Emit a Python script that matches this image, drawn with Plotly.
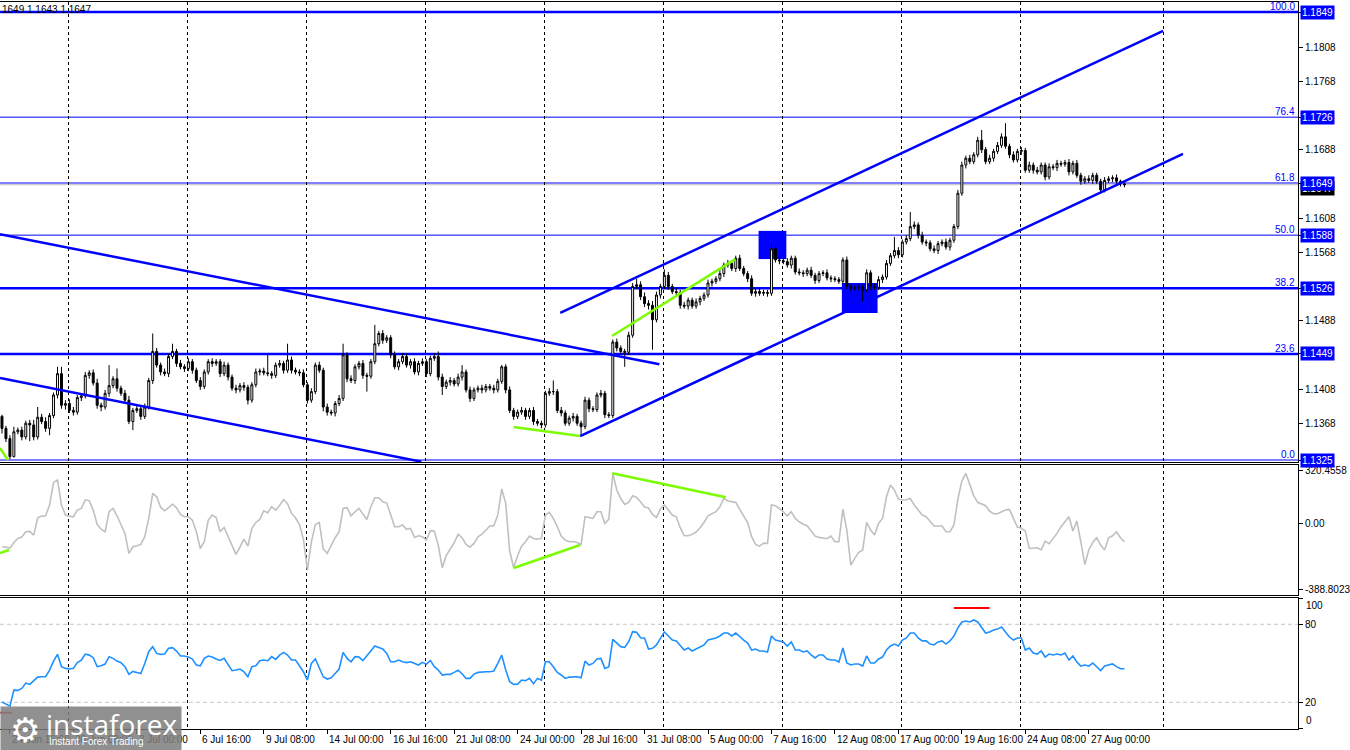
import plotly.graph_objects as go

# EURUSD H4 candles, prices in pips above 1.1000, open = previous close
first_open = 376
closes = [
    362, 350, 329, 358, 360, 352, 368, 366, 352, 375,
    370, 362, 377, 401, 426, 389, 391, 383, 381, 398,
    400, 424, 427, 415, 389, 387, 403, 412, 420, 409,
    403, 395, 370, 383, 385, 376, 387, 418, 452, 436,
    428, 426, 446, 452, 438, 434, 432, 440, 430, 418,
    411, 428, 440, 438, 440, 426, 436, 422, 409, 407,
    412, 410, 395, 413, 428, 429, 427, 426, 424, 436,
    438, 430, 442, 430, 428, 427, 413, 395, 405, 436,
    430, 387, 381, 380, 391, 397, 448, 420, 418, 434,
    438, 424, 423, 440, 461, 473, 465, 468, 448, 434,
    440, 446, 436, 440, 428, 438, 440, 426, 444, 446,
    422, 411, 416, 418, 414, 422, 428, 407, 397, 407,
    409, 407, 411, 409, 407, 417, 434, 407, 383, 376,
    381, 383, 376, 383, 370, 368, 366, 403, 405, 405,
    383, 380, 368, 374, 376, 368, 364, 395, 385, 384,
    401, 403, 378, 377, 463, 456, 452, 451, 471, 528,
    530, 516, 508, 506, 489, 518, 528, 541, 528, 522,
    521, 506, 505, 512, 505, 510, 514, 518, 532, 534,
    537, 543, 553, 555, 549, 561, 549, 543, 537, 520,
    522, 520, 521, 520, 572, 559, 558, 557, 553, 561,
    545, 544, 543, 547, 541, 535, 543, 544, 538, 537,
    536, 534, 559, 528, 526, 526, 527, 524, 544, 528,
    527, 536, 539, 555, 564, 570, 565, 580, 584, 598,
    600, 588, 580, 579, 572, 570, 578, 580, 574, 582,
    598, 637, 670, 678, 674, 682, 699, 688, 674, 678,
    686, 693, 703, 692, 682, 676, 686, 687, 664, 670,
    664, 662, 670, 656, 668, 667, 672, 671, 673, 662,
    672, 658, 651, 654, 652, 658, 651, 641, 652, 654,
    655, 651, 648, 647,
]
upper_wick = [
    2, 3, 4, 6, 3, 4, 3, 4, 6, 12,
    4, 5, 3, 3, 8, 8, 4, 5, 4, 3,
    3, 4, 3, 4, 5, 3, 4, 24, 3, 12,
    3, 4, 5, 3, 4, 3, 4, 3, 21, 4,
    3, 4, 3, 9, 3, 4, 3, 4, 3, 3,
    4, 3, 3, 4, 3, 3, 4, 3, 3, 4,
    3, 4, 3, 3, 4, 3, 4, 21, 3, 3,
    4, 3, 19, 4, 3, 3, 4, 3, 4, 3,
    4, 3, 4, 3, 3, 4, 13, 3, 4, 3,
    3, 4, 3, 3, 22, 3, 4, 3, 3, 4,
    3, 4, 3, 3, 4, 3, 4, 3, 3, 4,
    6, 4, 3, 4, 3, 4, 8, 3, 4, 3,
    3, 4, 3, 3, 4, 3, 2, 3, 4, 3,
    3, 4, 3, 3, 4, 3, 3, 3, 4, 13,
    3, 4, 3, 3, 4, 3, 3, 4, 3, 3,
    3, 4, 3, 3, 3, 4, 3, 3, 4, 4,
    7, 4, 5, 4, 5, 4, 3, 7, 4, 3,
    4, 3, 4, 3, 3, 4, 3, 3, 4, 3,
    3, 4, 3, 4, 3, 3, 4, 3, 3, 4,
    3, 4, 3, 3, 7, 4, 3, 3, 4, 3,
    3, 4, 3, 3, 4, 3, 3, 3, 4, 3,
    3, 3, 3, 4, 3, 3, 3, 3, 4, 3,
    3, 4, 3, 4, 3, 16, 4, 3, 4, 17,
    4, 3, 4, 3, 3, 4, 3, 3, 4, 3,
    3, 4, 4, 3, 4, 3, 4, 12, 3, 4,
    3, 4, 4, 16, 3, 4, 3, 4, 3, 4,
    3, 4, 3, 3, 4, 3, 4, 3, 3, 4,
    3, 4, 3, 3, 4, 3, 3, 3, 4, 3,
    3, 4, 2, 3,
]
lower_wick = [
    6, 4, 3, 1, 3, 4, 3, 19, 4, 3,
    3, 4, 8, 3, 4, 4, 5, 3, 4, 3,
    4, 3, 4, 3, 4, 5, 3, 4, 3, 4,
    3, 4, 3, 10, 3, 4, 3, 3, 4, 3,
    4, 3, 4, 3, 4, 3, 4, 3, 4, 3,
    4, 3, 3, 4, 3, 4, 3, 4, 3, 4,
    3, 4, 5, 3, 3, 4, 3, 3, 4, 3,
    3, 4, 3, 4, 3, 4, 3, 4, 3, 3,
    3, 5, 4, 3, 4, 3, 3, 4, 3, 4,
    3, 4, 18, 3, 3, 3, 4, 3, 4, 3,
    4, 3, 3, 4, 3, 4, 3, 4, 3, 3,
    4, 10, 3, 4, 3, 3, 4, 3, 4, 3,
    3, 4, 3, 3, 4, 3, 3, 4, 3, 4,
    3, 3, 4, 3, 4, 3, 4, 3, 3, 4,
    3, 4, 3, 3, 4, 3, 10, 3, 4, 3,
    3, 3, 4, 3, 3, 4, 3, 17, 3, 3,
    3, 4, 4, 5, 35, 3, 4, 3, 4, 3,
    4, 4, 3, 4, 3, 3, 4, 3, 3, 4,
    3, 3, 4, 3, 3, 4, 3, 3, 4, 3,
    4, 3, 3, 4, 3, 3, 4, 3, 3, 4,
    3, 3, 4, 3, 3, 4, 3, 3, 3, 4,
    3, 3, 3, 3, 4, 3, 3, 14, 3, 4,
    3, 3, 4, 3, 3, 3, 4, 3, 3, 3,
    3, 4, 3, 4, 3, 3, 4, 3, 3, 4,
    3, 3, 3, 4, 3, 3, 3, 4, 3, 3,
    4, 3, 3, 3, 4, 3, 3, 4, 3, 3,
    4, 3, 3, 4, 3, 3, 4, 3, 3, 4,
    3, 3, 4, 3, 3, 4, 3, 4, 3, 3,
    4, 3, 3, 3,
]

cci = [
    -135, -139, -145, -111, -87, -79, -47, -45, -67, 36,
    46, 48, 112, 247, 261, 112, 52, 46, 42, 82,
    92, 143, 138, 82, -4, -33, -47, 72, 92, 48,
    -7, -57, -176, -137, -131, -123, -77, 32, 181, 161,
    98, 78, 96, 118, 96, 56, 42, 42, 22, -47,
    -147, -107, 22, 52, 38, -47, -21, -77, -137, -182,
    -139, -91, -133, -27, 8, 26, 78, 66, 102, 82,
    110, 145, 120, 62, 36, -4, -91, -276, -107, -4,
    8, -150, -176, -127, -83, -47, 92, 96, 48, 72,
    92, 58, 26, 102, 155, 155, 132, 124, 52, -17,
    -17, -7, -33, -27, -81, -71, -77, -97, -41, -43,
    -127, -262, -190, -150, -113, -63, -83, -123, -139, -117,
    -77, -61, -37, -13, -11, 52, 207, 122, -162, -262,
    -190, -133, -107, -73, -87, -91, -87, 52, 68, 32,
    -17, -73, -97, -107, -105, -111, -123, 42, 38, 32,
    72, 72, 2, 28, 300, 201, 151, 116, 128, 167,
    157, 132, 100, 95, 56, 38, 88, 112, 82, 52,
    42, -23, -71, -71, -63, -49, -23, 8, 48, 58,
    72, 102, 151, 136, 132, 128, 86, 48, 8, -77,
    -123, -133, -115, -117, 112, 108, 92, 72, 48, 72,
    32, 12, -2, -11, -43, -73, -81, -87, -89, -73,
    -107, -107, 88, -37, -246, -206, -170, -156, 8, -37,
    -67, 2, 32, 161, 231, 201, 147, 142, 143, 151,
    112, 82, 52, 42, 16, -13, -13, -13, -47, -47,
    -7, 147, 255, 300, 235, 167, 128, 118, 108, 76,
    60, 60, 72, 82, 86, 36, -19, -27, -43, -147,
    -143, -143, -156, -103, -119, -87, -57, -17, 12, 42,
    -43, 16, -107, -242, -156, -111, -83, -127, -156, -83,
    -71, -47, -83, -107,
]
rsi = [
    20.2, 18.4, 17.1, 29.4, 29.2, 30.7, 34.8, 33.8, 36.3, 39.4,
    39.7, 39.7, 44.8, 51.7, 56.9, 47.4, 46.1, 45.6, 46.1, 50.5,
    52.5, 57.1, 56.3, 54.3, 47.4, 48.1, 49.4, 55.1, 53.8, 51.7,
    50.5, 47.4, 41.5, 43.8, 43.0, 42.2, 49.9, 58.9, 62.8, 57.6,
    56.9, 57.1, 61.5, 62.0, 59.4, 55.6, 55.6, 54.8, 53.3, 48.7,
    48.1, 53.8, 55.6, 54.8, 53.3, 52.2, 53.8, 48.7, 44.3, 44.8,
    45.6, 43.5, 39.7, 47.4, 48.1, 52.0, 52.5, 52.0, 55.1, 53.0,
    56.3, 58.4, 56.3, 52.5, 52.5, 48.1, 43.5, 37.1, 49.9, 53.3,
    46.6, 39.7, 37.9, 38.9, 42.2, 45.6, 58.4, 53.8, 51.2, 55.1,
    54.8, 52.0, 55.8, 59.4, 63.3, 62.2, 61.0, 57.6, 51.2, 51.2,
    52.5, 51.2, 50.5, 51.2, 49.7, 48.7, 50.7, 49.2, 52.2, 47.4,
    44.8, 41.0, 41.5, 41.5, 43.0, 44.6, 42.0, 38.4, 38.4, 41.7,
    43.0, 43.5, 43.5, 43.5, 44.0, 49.9, 56.3, 44.8, 35.8, 33.8,
    34.0, 37.1, 36.6, 38.4, 34.3, 38.4, 37.1, 51.2, 51.2, 47.4,
    43.0, 41.0, 38.4, 39.4, 39.7, 39.7, 38.9, 51.7, 48.7, 49.9,
    53.3, 53.8, 46.1, 47.4, 68.4, 65.3, 62.8, 62.2, 66.6, 74.3,
    73.8, 69.7, 69.2, 61.0, 61.5, 64.1, 69.5, 74.1, 71.0, 67.9,
    67.2, 63.3, 60.2, 61.8, 59.5, 61.0, 62.5, 64.1, 67.9, 68.7,
    69.5, 71.0, 73.3, 73.3, 71.0, 73.3, 70.2, 67.9, 65.6, 60.2,
    61.0, 59.5, 59.5, 58.7, 71.0, 67.9, 67.2, 66.4, 63.3, 66.4,
    60.2, 60.2, 58.7, 59.5, 56.4, 54.1, 56.4, 56.4, 53.3, 52.5,
    52.5, 51.0, 61.8, 50.2, 48.7, 49.5, 49.5, 47.9, 55.6, 50.2,
    50.2, 53.3, 54.8, 60.2, 63.3, 64.8, 63.3, 67.9, 69.5, 73.3,
    73.3, 69.5, 67.2, 67.2, 64.8, 64.1, 66.4, 67.2, 64.8, 67.2,
    71.0, 77.2, 81.8, 82.5, 81.8, 83.3, 81.8, 77.9, 73.3, 74.1,
    75.6, 76.3, 77.9, 74.1, 70.2, 67.9, 69.5, 69.5, 60.2, 61.8,
    57.9, 57.1, 59.5, 54.8, 57.1, 56.4, 57.1, 56.4, 57.9, 52.5,
    55.6, 51.0, 47.9, 48.7, 47.9, 50.2, 47.4, 44.4, 47.9, 48.7,
    49.5, 47.4, 45.8, 45.8,
]

# time axis (bar index of each label) and weekly separators
tick_bars = [2, 18, 34, 50, 66, 82, 98, 114, 130, 146, 162, 178, 194, 210, 226, 242, 258, 274]
tick_labels = ["24 Jun 16:00", "30 Jun 08:00", "3 Jul 00:00", "6 Jul 16:00", "9 Jul 08:00",
               "14 Jul 00:00", "16 Jul 16:00", "21 Jul 08:00", "24 Jul 00:00", "28 Jul 16:00",
               "31 Jul 08:00", "5 Aug 00:00", "7 Aug 16:00", "12 Aug 08:00", "17 Aug 00:00",
               "19 Aug 16:00", "24 Aug 08:00", "27 Aug 00:00"]
grid_bars = [16.75, 46.75, 76.75, 106.75, 136.75, 166.75, 196.75, 226.75, 256.75, 292.75]

price_ticks = [1.1849, 1.1808, 1.1768, 1.1726, 1.1688, 1.1649, 1.1608, 1.1588,
               1.1568, 1.1526, 1.1488, 1.1449, 1.1408, 1.1368, 1.1325]
fib_levels = ["0.0", "23.6", "38.2", "50.0", "61.8", "76.4", "100.0"]
fib_prices = [1.1325, 1.1449, 1.1526, 1.1588, 1.1649, 1.1726, 1.1849]
last_price = 1.1647
cci_ticks = [320.4558, 0.0, -388.8023]
cci_tick_text = ["320.4558", "0.00", "-388.8023"]
rsi_levels = [20, 80]

# drawn objects: (bar, value) end points
blue_lines = [((140.75, 1.1497), (292.75, 1.1827)), ((145.75, 1.1353), (297.75, 1.1683)),
              ((-0.5, 1.1589), (165.75, 1.1437)), ((-0.5, 1.1421), (105.75, 1.1323))]
green_price_lines = [((129, 1.13636), (145.75, 1.1353)), ((153.8, 1.1470), (184.9, 1.1560)),
                     ((-0.5, 1.1339), (1.5, 1.1325))]
green_cci_lines = [((129, -263), (145.75, -126)), ((153.85, 301), (182.5, 158)),
                   ((-0.5, -174), (1.75, -156))]
red_rsi_lines = [((240, 92.5), (249, 92.5)), ((-0.5, 12), (2.5, 12))]
boxes = [((190.75, 1.1560), (197.75, 1.1593)), ((211.75, 1.1497), (220.75, 1.1532))]


def price(p):
    return round(1.1 + p / 10000, 5)


bars = list(range(len(closes)))
opens = [first_open] + closes[:-1]
highs = [max(o, c) + w for o, c, w in zip(opens, closes, upper_wick)]
lows = [min(o, c) - w for o, c, w in zip(opens, closes, lower_wick)]

FONT = "Liberation Sans"
BLUE = "#0000FF"

fig = go.Figure()
fig.add_trace(go.Candlestick(
    x=bars, open=[price(v) for v in opens], high=[price(v) for v in highs],
    low=[price(v) for v in lows], close=[price(v) for v in closes],
    increasing=dict(line=dict(color="black", width=1), fillcolor="white"),
    decreasing=dict(line=dict(color="black", width=1), fillcolor="black"),
    whiskerwidth=0, xaxis="x", yaxis="y", showlegend=False, hoverinfo="skip"))
fig.add_trace(go.Scatter(x=bars, y=cci, mode="lines", xaxis="x2", yaxis="y2",
                         line=dict(color="#C0C0C0", width=1.6), showlegend=False))
fig.add_trace(go.Scatter(x=bars, y=rsi, mode="lines", xaxis="x3", yaxis="y3",
                         line=dict(color="#1E90FF", width=1.6), showlegend=False))

shapes = []
fib_width = {"0.0": 1, "23.6": 2.5, "38.2": 2.5, "50.0": 1, "61.8": 1, "76.4": 1, "100.0": 2.5}
shapes.append(dict(type="line", xref="paper", yref="y", x0=0, x1=1, y0=last_price, y1=last_price,
                   line=dict(color="#C0C0C0", width=1), layer="between"))
for lvl, p in zip(fib_levels, fib_prices):
    shapes.append(dict(type="line", xref="paper", yref="y", x0=0, x1=1, y0=p, y1=p,
                       line=dict(color=BLUE, width=fib_width[lvl]), layer="between"))
for (x0, y0), (x1, y1) in boxes:
    shapes.append(dict(type="rect", xref="x", yref="y", x0=x0, x1=x1, y0=y0, y1=y1,
                       fillcolor=BLUE, line=dict(width=0), layer="between"))
for (x0, y0), (x1, y1) in blue_lines:
    shapes.append(dict(type="line", xref="x", yref="y", x0=x0, x1=x1, y0=y0, y1=y1,
                       line=dict(color=BLUE, width=2.5)))
for (x0, y0), (x1, y1) in green_price_lines:
    shapes.append(dict(type="line", xref="x", yref="y", x0=x0, x1=x1, y0=y0, y1=y1,
                       line=dict(color="#7CFC00", width=2.5)))
for (x0, y0), (x1, y1) in green_cci_lines:
    shapes.append(dict(type="line", xref="x2", yref="y2", x0=x0, x1=x1, y0=y0, y1=y1,
                       line=dict(color="#7CFC00", width=2.5)))
for k, ((x0, y0), (x1, y1)) in enumerate(red_rsi_lines):
    shapes.append(dict(type="line", xref="x3", yref="y3", x0=x0, x1=x1, y0=y0, y1=y1,
                       line=dict(color="#FF0000" if k == 0 else "#D05050", width=2)))
for lv in rsi_levels:
    shapes.append(dict(type="line", xref="paper", yref="y3", x0=0, x1=1, y0=lv, y1=lv,
                       line=dict(color="#C8C8C8", width=1, dash="4px,3px"), layer="between"))

ann = []
# current price box (black) sits under the 61.8 box
ann.append(dict(xref="paper", yref="y", x=1, y=last_price, xanchor="left", xshift=2, yshift=-4,
                text=f"{last_price:.4f}", bgcolor="black", font=dict(color="white", size=10, family=FONT),
                showarrow=False, borderpad=1))
for lvl, p in zip(fib_levels, fib_prices):
    ann.append(dict(xref="paper", yref="y", x=1, y=p, xanchor="right", yanchor="bottom", xshift=-1,
                    yshift=-2, text=lvl, font=dict(color=BLUE, size=10, family=FONT), showarrow=False))
    ann.append(dict(xref="paper", yref="y", x=1, y=p, xanchor="left", xshift=2, text=f"{p:.4f}",
                    bgcolor=BLUE, font=dict(color="white", size=10, family=FONT),
                    showarrow=False, borderpad=1))
ann.append(dict(xref="paper", yref="y3", x=1, y=100, xanchor="left", yanchor="top", xshift=6,
                text="100", font=dict(size=10, family=FONT, color="black"), showarrow=False))
ann.append(dict(xref="paper", yref="y3", x=1, y=0, xanchor="left", yanchor="bottom", xshift=6,
                text="0", font=dict(size=10, family=FONT, color="black"), showarrow=False))
for b, lbl in zip(tick_bars, tick_labels):
    ann.append(dict(xref="x3", yref="paper", x=b, y=0, xanchor="left", yanchor="top", xshift=0,
                    yshift=-3, text=lbl, font=dict(size=10, family=FONT, color="black"), showarrow=False))
ann.append(dict(xref="paper", yref="paper", x=0, y=1, xanchor="left", yanchor="top",
                text="1649 1.1643 1.1647", font=dict(size=10, family=FONT, color="black"), showarrow=False))
# watermark logo (drawn over the first time labels, as in the original)
ann.append(dict(xref="paper", yref="paper", x=0, y=0.0316, xanchor="left", yanchor="top", text=" ",
                width=180, height=44, bgcolor="rgba(125,125,125,0.85)", borderpad=0, showarrow=False))
ann.append(dict(xref="paper", yref="paper", x=0.006, y=-0.001, xanchor="left", yanchor="middle",
                text="⚙", font=dict(size=34, color="white", family="DejaVu Sans"), showarrow=False))
ann.append(dict(xref="paper", yref="paper", x=0.034, y=0.0075, xanchor="left", yanchor="middle",
                text="instaforex", font=dict(size=28, color="white", family="Open Sans"), showarrow=False))
ann.append(dict(xref="paper", yref="paper", x=0.036, y=-0.0175, xanchor="left", yanchor="middle",
                text="Instant Forex Trading", font=dict(size=10, color="white", family=FONT), showarrow=False))

xcommon = dict(range=[-0.5, 326.75], showline=True, mirror=True, linecolor="black", linewidth=1,
               showgrid=False, zeroline=False, showticklabels=False,
               minor=dict(tickvals=grid_bars, showgrid=True, gridcolor="black", gridwidth=1,
                          griddash="3px,3px", ticks=""))
ycommon = dict(side="right", showline=True, linecolor="black", linewidth=1, showgrid=False,
               zeroline=False, ticks="outside", ticklen=4, tickcolor="black",
               tickfont=dict(size=10, family=FONT, color="black"))

# boxed prices get their label from an annotation, so leave the tick text empty
price_text = ["" if v in fib_prices else f"{v:.4f}" for v in price_ticks]

fig.update_layout(
    width=1350, height=750, margin=dict(l=0, r=41, t=2, b=21),
    plot_bgcolor="white", paper_bgcolor="white", showlegend=False,
    xaxis=dict(anchor="y", rangeslider=dict(visible=False), ticks="", **xcommon),
    xaxis2=dict(anchor="y2", matches="x", ticks="", **xcommon),
    xaxis3=dict(anchor="y3", matches="x", tickvals=tick_bars, ticks="outside", ticklen=4,
                tickcolor="black", **xcommon),
    yaxis=dict(anchor="x", domain=[0.3673, 1], range=[1.13227, 1.18607], tickvals=price_ticks,
               ticktext=price_text, **ycommon),
    yaxis2=dict(anchor="x2", domain=[0.1843, 0.3631], range=[-424.3, 350.4], tickvals=cci_ticks,
                ticktext=cci_tick_text, **ycommon),
    yaxis3=dict(anchor="x3", domain=[0, 0.1802], range=[-0.5, 100.2], tickvals=[0, 20, 80, 100],
                ticktext=["", "20", "80", ""], **ycommon),
    shapes=shapes, annotations=ann,
)

# drop the page's default 8px body margin so the chart sits at the window's corner
fig.write_html("out.html", config={"displayModeBar": False},
               post_script="document.body.style.margin='0';")
